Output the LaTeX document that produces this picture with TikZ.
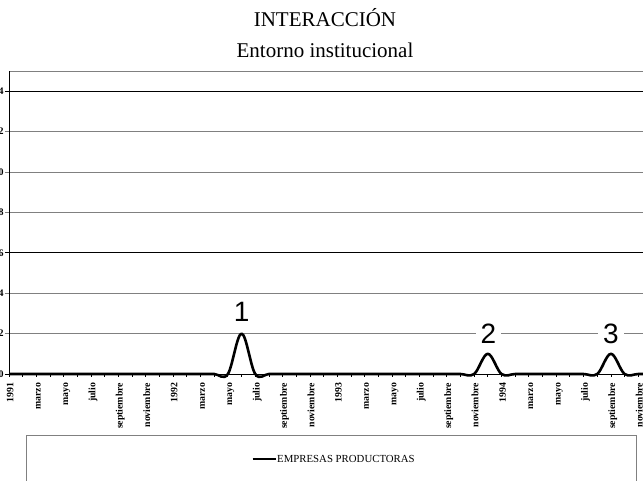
\documentclass[tikz,border=0pt]{standalone}
\usepackage{fontspec}
\setmainfont{Liberation Serif}
\newfontfamily\arialfont{Liberation Sans}
\definecolor{gridgray}{HTML}{808080}
\begin{document}
\begin{tikzpicture}[x=1pt,y=-1pt,
  gridline/.style={draw=gridgray, line width=1pt},
  gridblack/.style={draw=black, line width=1pt},
  axisline/.style={draw=black, line width=1pt},
  tickline/.style={draw=black, line width=0.8pt},
  dataline/.style={draw=black, line width=2.6pt, line join=round},
  xlab/.style={rotate=90, anchor=mid east, inner sep=0pt, font=\bfseries\fontsize{9.8}{10}\selectfont},
  ylab/.style={anchor=east, inner sep=0pt, font=\bfseries\fontsize{10}{11}\selectfont},
  peaklab/.style={font=\arialfont\fontsize{28}{30}\selectfont, fill=white, inner xsep=5pt, inner ysep=1pt, anchor=base},
  titlelab/.style={font=\fontsize{21}{24}\selectfont, anchor=base, inner sep=0pt},
  legendbox/.style={draw=gridgray, line width=1pt},
  legendlab/.style={font=\fontsize{10.8}{12}\selectfont, anchor=west, inner sep=0pt}]
\useasboundingbox (0,0) rectangle (643,480);
\clip (0,0) rectangle (643,480);
% title
\node[titlelab] (t1) at (325,26.7) {INTERACCIÓN};
\node[titlelab] (t2) at (325,57.3) {Entorno institucional};
% plot area top border
\draw[gridline] (9,71) -- (660,71);
\begin{scope}[shift={(9,374)}, x=13.68pt, y=20.2pt]
  % gridlines
  \foreach \v in {2,4,8,10,12} \draw[gridline] (-0.3,\v) -- (48,\v);
  \foreach \v in {6,14} \draw[gridblack] (-0.3,\v) -- (48,\v);
  % y labels
  \foreach \v in {0,2,...,14} \node[ylab] (yl\v) at (-0.37,\v) {\v};
  % axes
  \draw[axisline] (0,0) -- (0,15);
  \draw[axisline] (-0.3,0) -- (48,0);
  \foreach \k in {0,...,47} \draw[tickline] (\k,0) -- (\k,-0.15);
  % x labels
  \foreach \k/\t in {0/1991,2/marzo,4/mayo,6/julio,8/septiembre,10/noviembre,
      12/1992,14/marzo,16/mayo,18/julio,20/septiembre,22/noviembre,
      24/1993,26/marzo,28/mayo,30/julio,32/septiembre,34/noviembre,
      36/1994,38/marzo,40/mayo,42/julio,44/septiembre,46/noviembre}
    \node[xlab] (xl\k) at ([xshift=2pt]\k,-0.43) {\t};
  % data
  \draw[dataline] plot[smooth, tension=0.6] coordinates {
    (0,0) (1,0) (2,0) (3,0) (4,0) (5,0) (6,0) (7,0) (8,0) (9,0)
    (10,0) (11,0) (12,0) (13,0) (14,0) (15,0) (16,0) (17,2) (18,0) (19,0)
    (20,0) (21,0) (22,0) (23,0) (24,0) (25,0) (26,0) (27,0) (28,0) (29,0)
    (30,0) (31,0) (32,0) (33,0) (34,0) (35,1) (36,0) (37,0) (38,0) (39,0)
    (40,0) (41,0) (42,0) (43,0) (44,1) (45,0) (46,0) (47,0) (48,0)};
\end{scope}
% peak labels
\node[peaklab] (p1) at (241.6,321) {1};
\node[peaklab] (p2) at (488.3,343.3) {2};
\node[peaklab] (p3) at (611,343.3) {3};
% legend
\draw[legendbox] (26.7,435) rectangle (636.7,495);
\coordinate (la) at (252.7,459);
\coordinate (lb) at (276,459);
\draw[dataline] (la) -- (lb);
\node[legendlab] (leg) at ([xshift=1pt]lb) {EMPRESAS PRODUCTORAS};
\end{tikzpicture}
\end{document}
